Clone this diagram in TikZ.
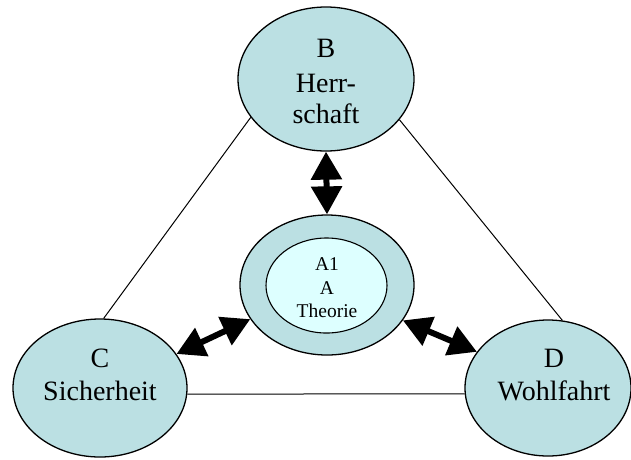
\documentclass[tikz,border=0pt]{standalone}
\usepackage{fontspec}
\setmainfont{Liberation Serif}
\usetikzlibrary{shapes.geometric,arrows.meta}
\definecolor{ellfill}{RGB}{187,224,227}
\definecolor{innerfill}{RGB}{221,255,255}
\tikzset{
  ell/.style={ellipse,draw=black,line width=1.3pt,fill=ellfill,inner sep=0pt},
  inell/.style={ellipse,draw=black,line width=1.1pt,fill=innerfill,inner sep=0pt},
  bigtxt/.style={anchor=base,inner sep=0pt,font=\fontsize{28}{31}\selectfont},
  smalltxt/.style={anchor=base,inner sep=0pt,font=\fontsize{19.5}{23}\selectfont},
  conn/.style={draw=black,line width=1pt},
  fat/.style={line width=6pt,{Triangle[width=30pt,length=28pt]}-{Triangle[width=30pt,length=28pt]}}
}
\begin{document}
\begin{tikzpicture}[x=1pt,y=-1pt]
\useasboundingbox (0,0) rectangle (631,459);
% ellipses
\node[ell,minimum width=176pt,minimum height=144pt] (B) at (326,79) {};
\node[ell,minimum width=174pt,minimum height=138pt] (C) at (100,388) {};
\node[ell,minimum width=166pt,minimum height=136pt] (D) at (548,388) {};
\node[ell,minimum width=174pt,minimum height=140pt] (Aout) at (327,285) {};
\node[inell,minimum width=121pt,minimum height=95pt] (Ain) at (326.5,285.5) {};
% texts
\node[bigtxt] (tB1) at (326,57) {B};
\node[bigtxt] (tB2) at (326,92) {Herr-};
\node[bigtxt] (tB3) at (326,123) {schaft};
\node[bigtxt] (tC1) at (100,367) {C};
\node[bigtxt] (tC2) at (100,400) {Sicherheit};
\node[bigtxt] (tD1) at (554,367) {D};
\node[bigtxt] (tD2) at (554,400) {Wohlfahrt};
\node[smalltxt] (tA1) at (327,270) {A1};
\node[smalltxt] (tA2) at (327,294) {A};
\node[smalltxt] (tA3) at (327,317) {Theorie};
% connectors
\draw[conn] (B.207) -- (C.87.5);
\draw[conn] (B.331.7) -- (D.78.4);
\draw[conn] (C.-4) -- (D.184);
% arrows
\draw[fat] (B.south) -- (Aout.north);
\draw[fat] (C.24.4) -- (Aout.204.4);
\draw[fat] (Aout.335) -- (D.153.8);
\end{tikzpicture}
\end{document}
